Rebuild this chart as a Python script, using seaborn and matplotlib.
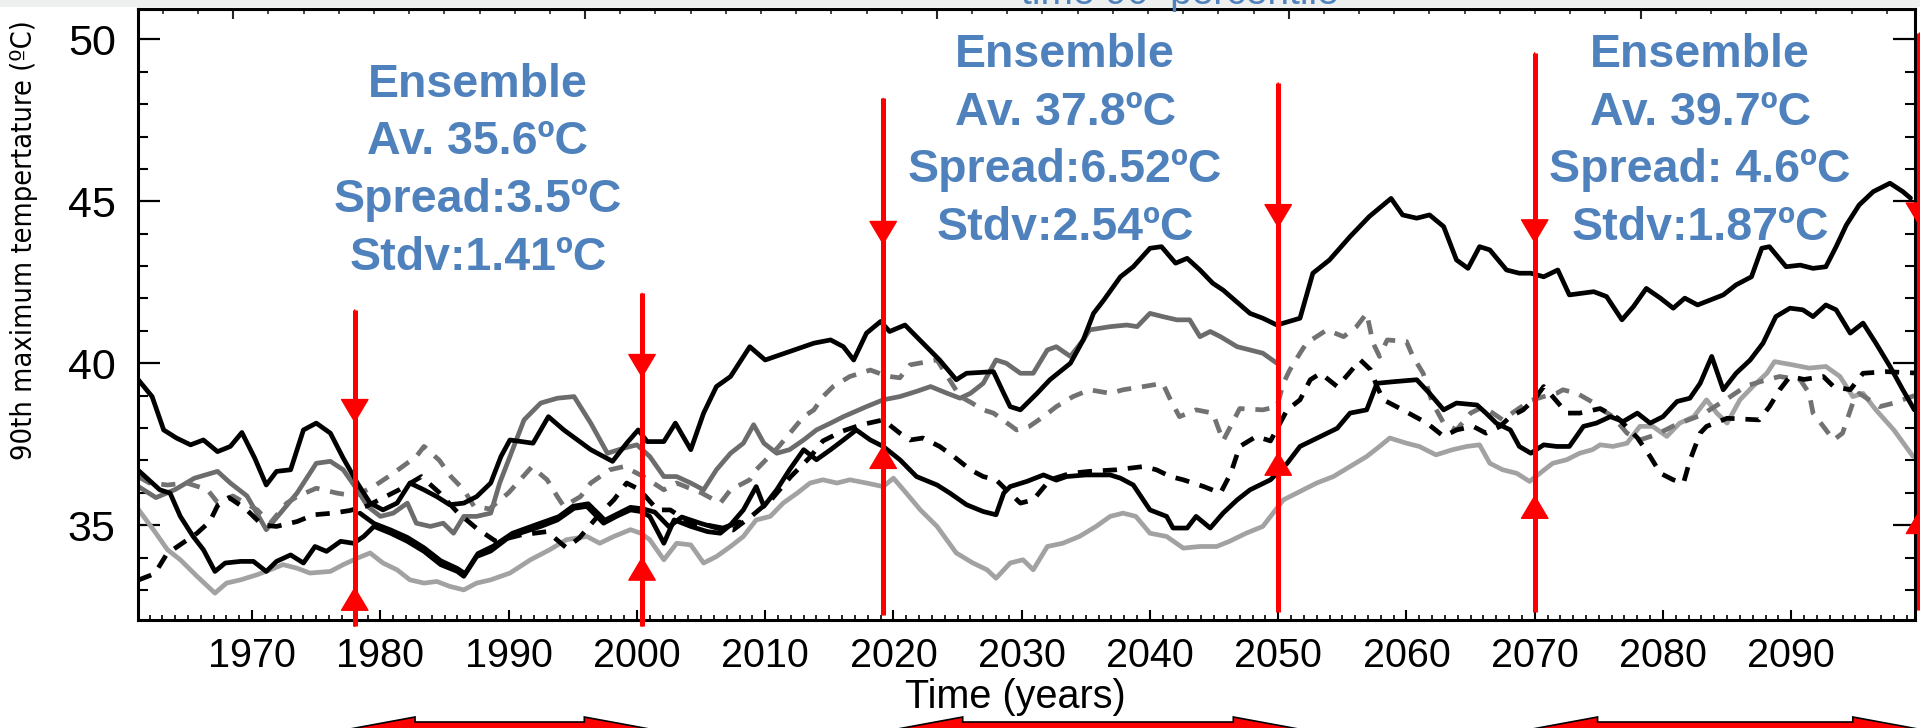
import matplotlib
matplotlib.use("Agg")
import matplotlib.pyplot as plt
import matplotlib.transforms as mtransforms
from matplotlib.patches import Polygon, Rectangle
from matplotlib.ticker import MultipleLocator, FixedLocator
from matplotlib import font_manager
import numpy as np
import pandas as pd
import seaborn as sns

# ---- series: (year, 90th pct max temperature) ----
top_black = [
    (1961.1, 39.50), (1962.2, 38.97), (1963.1, 37.94), (1964.1, 37.69), (1965.2, 37.48),
    (1966.2, 37.63), (1967.3, 37.27), (1968.3, 37.43), (1969.2, 37.86), (1970.2, 37.07),
    (1971.1, 36.24), (1971.9, 36.66), (1973.0, 36.71), (1974.0, 37.94), (1975.0, 38.15),
    (1976.1, 37.84), (1977.1, 37.07), (1978.2, 36.30), (1979.2, 35.68), (1980.2, 35.47),
    (1981.3, 35.68), (1982.3, 36.30), (1983.4, 36.09), (1984.4, 35.88), (1985.4, 35.63),
    (1986.5, 35.68), (1987.5, 35.88), (1988.6, 36.30), (1989.4, 37.12), (1990.1, 37.63),
    (1991.9, 37.53), (1993.1, 38.35), (1994.3, 37.94), (1996.4, 37.33), (1998.1, 36.97),
    (1999.2, 37.53), (2000.1, 37.94), (2000.8, 37.58), (2002.1, 37.58), (2003.0, 38.15),
    (2004.2, 37.33), (2005.2, 38.46), (2006.2, 39.28), (2007.3, 39.59), (2008.8, 40.51),
    (2010.0, 40.10), (2011.9, 40.36), (2013.8, 40.62), (2015.1, 40.72), (2016.1, 40.51),
    (2016.9, 40.10), (2017.9, 40.93), (2019.0, 41.29), (2019.7, 40.98), (2020.9, 41.18),
    (2022.3, 40.62), (2023.6, 40.10), (2024.9, 39.49), (2025.7, 39.69), (2027.8, 39.74),
    (2028.6, 39.07), (2029.1, 38.66), (2029.9, 38.56), (2031.2, 39.07), (2032.2, 39.49),
    (2033.8, 40.00), (2034.8, 40.72), (2035.6, 41.54), (2036.4, 41.95), (2037.7, 42.67),
    (2038.7, 42.98), (2040.0, 43.55), (2040.9, 43.60), (2042.0, 43.09), (2042.9, 43.24),
    (2043.9, 42.88), (2044.9, 42.47), (2045.7, 42.26), (2047.8, 41.54), (2048.8, 41.39),
    (2049.9, 41.18), (2051.7, 41.39), (2052.7, 42.78), (2054.0, 43.19), (2055.6, 43.91),
    (2057.1, 44.53), (2058.8, 45.09), (2059.7, 44.58), (2060.8, 44.48), (2061.8, 44.58),
    (2062.9, 44.22), (2063.9, 43.19), (2064.8, 42.93), (2065.7, 43.60), (2066.5, 43.50),
    (2067.8, 42.88), (2068.8, 42.78), (2069.7, 42.78), (2070.7, 42.67), (2071.8, 42.88),
    (2072.7, 42.11), (2074.6, 42.21), (2075.6, 42.06), (2076.8, 41.34), (2077.7, 41.75),
    (2078.7, 42.31), (2079.8, 42.01), (2080.8, 41.70), (2081.7, 42.01), (2082.7, 41.80),
    (2084.7, 42.11), (2085.7, 42.42), (2086.9, 42.67), (2087.7, 43.55), (2088.3, 43.60),
    (2089.6, 42.98), (2090.7, 43.03), (2091.7, 42.93), (2092.7, 42.98), (2093.5, 43.60),
    (2094.3, 44.27), (2095.3, 44.89), (2096.4, 45.30), (2097.7, 45.56), (2098.7, 45.30),
    (2099.3, 45.10),
]

mid_black = [
    (1961.1, 36.70), (1962.8, 36.09), (1963.6, 35.99), (1964.4, 35.27), (1965.4, 34.65),
    (1966.2, 34.24), (1967.1, 33.57), (1967.9, 33.83), (1969.1, 33.88), (1970.1, 33.88),
    (1971.1, 33.57), (1971.9, 33.88), (1973.0, 34.08), (1974.0, 33.83), (1974.9, 34.34),
    (1975.8, 34.19), (1976.9, 34.50), (1977.9, 34.44), (1978.7, 34.65), (1979.5, 34.96),
    (1980.8, 34.75), (1982.1, 34.50), (1983.4, 34.19), (1984.7, 33.78), (1986.0, 33.57),
    (1986.5, 33.42), (1987.5, 34.03), (1988.6, 34.20), (1990.1, 34.65), (1992.5, 34.96),
    (1993.8, 35.16), (1995.1, 35.52), (1996.1, 35.58), (1997.4, 35.06), (1998.4, 35.27),
    (1999.5, 35.47), (2000.3, 35.42), (2001.0, 35.27), (2002.1, 34.44), (2002.9, 35.16),
    (2004.2, 34.96), (2005.5, 34.80), (2006.5, 34.75), (2007.3, 35.01), (2008.3, 35.47),
    (2009.3, 36.19), (2009.9, 35.58), (2010.9, 36.09), (2011.9, 36.71), (2013.0, 37.33),
    (2014.0, 37.02), (2015.1, 37.33), (2016.1, 37.63), (2017.1, 37.94), (2018.2, 37.63),
    (2019.2, 37.43), (2020.5, 37.02), (2021.8, 36.50), (2023.4, 36.24), (2024.4, 35.99),
    (2025.7, 35.63), (2027.0, 35.42), (2028.0, 35.32), (2028.6, 35.99), (2029.1, 36.19),
    (2030.4, 36.35), (2031.7, 36.55), (2032.7, 36.39), (2033.5, 36.50), (2035.0, 36.55),
    (2036.9, 36.55), (2037.7, 36.45), (2038.7, 36.24), (2040.0, 35.47), (2041.3, 35.27),
    (2041.8, 34.91), (2042.9, 34.91), (2043.6, 35.27), (2044.7, 34.91), (2045.7, 35.37),
    (2046.8, 35.78), (2047.8, 36.09), (2049.4, 36.40), (2050.7, 36.91), (2051.7, 37.43),
    (2053.3, 37.74), (2054.6, 37.99), (2055.6, 38.46), (2056.9, 38.56), (2057.7, 39.38),
    (2059.0, 39.43), (2060.8, 39.49), (2061.8, 39.07), (2062.9, 38.56), (2063.9, 38.77),
    (2065.5, 38.71), (2066.2, 38.46), (2067.0, 38.15), (2068.1, 37.94), (2068.8, 37.43),
    (2069.7, 37.22), (2070.7, 37.48), (2071.7, 37.43), (2072.7, 37.43), (2073.8, 38.05),
    (2074.8, 38.15), (2075.9, 38.35), (2076.9, 38.20), (2078.0, 38.46), (2079.0, 38.15),
    (2080.0, 38.35), (2081.1, 38.82), (2082.1, 38.92), (2082.9, 39.38), (2083.8, 40.21),
    (2084.7, 39.18), (2085.7, 39.69), (2086.8, 40.10), (2087.8, 40.62), (2088.8, 41.44),
    (2089.9, 41.70), (2090.9, 41.65), (2091.7, 41.44), (2092.7, 41.80), (2093.5, 41.65),
    (2094.6, 40.93), (2095.6, 41.24), (2096.6, 40.62), (2097.7, 39.90), (2098.7, 39.18),
    (2099.6, 38.56),
]

hist_black = [
    (1978.4, 35.37), (1979.5, 35.05), (1980.8, 34.85), (1982.1, 34.62), (1983.4, 34.30),
    (1984.7, 33.90), (1986.0, 33.66), (1986.6, 33.50), (1987.6, 34.12), (1988.8, 34.35),
    (1990.3, 34.75), (1992.4, 35.05), (1993.9, 35.26), (1995.0, 35.58), (1996.2, 35.66),
    (1997.5, 35.15), (1998.5, 35.35), (1999.5, 35.55), (2000.5, 35.50), (2001.4, 35.40),
    (2002.5, 34.95), (2003.5, 35.25), (2005.0, 35.05), (2006.5, 34.88), (2008.0, 35.10),
]

dark_gray = [
    (1961.1, 36.20), (1962.5, 35.85), (1964.0, 36.10), (1965.5, 36.45), (1967.3, 36.66),
    (1968.3, 36.30), (1969.6, 35.90), (1971.1, 34.86), (1972.2, 35.37), (1973.5, 35.99),
    (1975.0, 36.91), (1976.1, 36.97), (1977.1, 36.71), (1978.2, 36.09), (1979.0, 35.58),
    (1980.0, 35.27), (1981.0, 35.37), (1982.1, 35.68), (1982.8, 35.06), (1983.9, 34.96),
    (1984.9, 35.06), (1985.7, 34.75), (1986.5, 35.27), (1987.5, 35.27), (1988.6, 35.37),
    (1989.3, 36.30), (1990.1, 37.12), (1991.2, 38.25), (1992.5, 38.77), (1993.8, 38.92),
    (1995.1, 38.97), (1996.4, 38.15), (1997.7, 37.22), (1999.0, 37.38), (2000.0, 37.48),
    (2001.0, 37.12), (2002.1, 36.50), (2003.1, 36.50), (2004.2, 36.30), (2005.2, 36.09),
    (2006.2, 36.71), (2007.3, 37.22), (2008.3, 37.53), (2009.1, 38.10), (2009.9, 37.53),
    (2010.9, 37.22), (2011.9, 37.33), (2013.0, 37.63), (2014.0, 37.94), (2015.1, 38.15),
    (2016.1, 38.35), (2017.9, 38.66), (2019.2, 38.87), (2020.5, 38.97), (2021.8, 39.13),
    (2022.9, 39.28), (2024.2, 39.07), (2025.2, 38.92), (2026.0, 39.07), (2027.0, 39.38),
    (2028.0, 40.10), (2028.8, 40.00), (2029.9, 39.69), (2030.9, 39.69), (2032.0, 40.41),
    (2032.7, 40.51), (2033.8, 40.21), (2034.8, 40.72), (2035.3, 41.03), (2036.9, 41.13),
    (2038.2, 41.18), (2039.0, 41.13), (2040.0, 41.54), (2041.0, 41.44), (2042.1, 41.34),
    (2043.1, 41.34), (2043.9, 40.82), (2044.7, 40.98), (2045.5, 40.82), (2046.8, 40.51),
    (2047.8, 40.41), (2048.8, 40.31), (2049.9, 40.00),
]

light_gray = [
    (1961.1, 35.50), (1962.3, 34.86), (1963.4, 34.24), (1964.4, 33.93), (1965.7, 33.42),
    (1967.1, 32.90), (1968.0, 33.21), (1969.1, 33.31), (1970.4, 33.47), (1971.4, 33.62),
    (1972.4, 33.78), (1973.5, 33.67), (1974.5, 33.52), (1976.1, 33.57), (1977.1, 33.78),
    (1978.2, 33.98), (1979.2, 34.14), (1980.2, 33.83), (1981.3, 33.62), (1982.3, 33.31),
    (1983.4, 33.21), (1984.4, 33.26), (1985.4, 33.11), (1986.5, 33.00), (1987.5, 33.21),
    (1988.6, 33.31), (1990.1, 33.52), (1991.7, 33.93), (1993.2, 34.24), (1994.5, 34.55),
    (1996.1, 34.65), (1997.1, 34.44), (1998.2, 34.65), (1999.5, 34.86), (2000.3, 34.75),
    (2001.0, 34.55), (2002.1, 33.93), (2003.1, 34.44), (2004.2, 34.39), (2005.2, 33.83),
    (2006.2, 34.03), (2007.3, 34.34), (2008.3, 34.65), (2009.3, 35.16), (2010.4, 35.27),
    (2011.4, 35.68), (2012.5, 35.99), (2013.5, 36.30), (2014.5, 36.40), (2015.6, 36.30),
    (2016.6, 36.40), (2017.9, 36.30), (2019.2, 36.19), (2020.0, 36.45), (2021.0, 35.99),
    (2022.1, 35.47), (2023.4, 34.96), (2024.9, 34.14), (2026.2, 33.83), (2027.3, 33.62),
    (2028.0, 33.36), (2029.1, 33.83), (2030.1, 33.93), (2030.9, 33.62), (2032.0, 34.34),
    (2033.2, 34.44), (2034.5, 34.65), (2035.8, 34.96), (2036.9, 35.27), (2037.9, 35.37),
    (2038.9, 35.27), (2040.0, 34.75), (2041.3, 34.65), (2042.6, 34.29), (2043.9, 34.34),
    (2045.2, 34.34), (2046.2, 34.50), (2047.5, 34.75), (2048.8, 34.96), (2049.6, 35.37),
    (2050.4, 35.78), (2051.7, 36.04), (2053.0, 36.30), (2054.3, 36.50), (2055.6, 36.81),
    (2056.9, 37.12), (2057.9, 37.43), (2058.7, 37.69), (2060.0, 37.53), (2061.0, 37.43),
    (2062.3, 37.17), (2063.6, 37.33), (2064.7, 37.43), (2065.7, 37.48), (2066.5, 36.91),
    (2067.5, 36.71), (2068.6, 36.60), (2069.6, 36.35), (2070.4, 36.60), (2071.4, 36.91),
    (2072.5, 37.02), (2073.5, 37.22), (2074.5, 37.33), (2075.1, 37.48), (2076.1, 37.43),
    (2077.2, 37.53), (2078.2, 38.05), (2079.2, 38.05), (2080.3, 37.74), (2081.3, 38.15),
    (2082.4, 38.35), (2083.4, 38.87), (2084.2, 38.46), (2085.0, 38.15), (2086.0, 38.87),
    (2087.0, 39.28), (2088.1, 39.69), (2088.7, 40.05), (2090.1, 39.95), (2091.4, 39.85),
    (2092.7, 39.90), (2093.8, 39.59), (2094.8, 38.97), (2095.6, 39.07), (2096.6, 38.56),
    (2098.0, 37.94), (2099.5, 37.12),
]

black_dashed = [
    (1961.1, 33.30), (1962.4, 33.50), (1963.3, 34.08), (1964.0, 34.29), (1965.7, 34.75),
    (1966.7, 35.11), (1967.3, 35.60), (1968.2, 35.85), (1969.5, 35.50), (1970.8, 35.00),
    (1971.9, 34.96), (1973.5, 35.11), (1974.8, 35.32), (1976.3, 35.37), (1977.6, 35.45),
    (1979.0, 35.60), (1980.5, 35.90), (1981.5, 36.10), (1983.2, 36.50), (1984.6, 36.00),
    (1986.0, 35.40), (1987.5, 34.90), (1989.0, 34.50), (1991.0, 34.70), (1993.0, 34.80),
    (1994.5, 34.30), (1995.5, 34.60), (1997.0, 35.30), (1998.2, 35.78), (1999.2, 36.30),
    (2000.2, 36.10), (2001.6, 35.47), (2002.6, 35.47), (2004.2, 35.06), (2005.5, 35.00),
    (2007.5, 34.85), (2009.0, 35.30), (2010.5, 35.80), (2012.0, 36.50), (2013.5, 37.10),
    (2014.5, 37.60), (2016.0, 37.90), (2017.5, 38.10), (2019.2, 38.25), (2020.5, 37.84),
    (2021.3, 37.63), (2022.3, 37.69), (2023.6, 37.43), (2024.7, 37.12), (2026.0, 36.71),
    (2027.0, 36.50), (2028.0, 36.40), (2028.8, 36.09), (2029.9, 35.68), (2030.9, 35.78),
    (2032.2, 36.40), (2033.8, 36.60), (2035.3, 36.66), (2037.4, 36.71), (2039.5, 36.81),
    (2040.5, 36.71), (2041.6, 36.50), (2042.6, 36.40), (2044.2, 36.19), (2045.5, 35.99),
    (2046.3, 36.60), (2047.0, 37.43), (2048.3, 37.74), (2049.4, 37.60), (2050.7, 38.56),
    (2051.7, 38.87), (2052.5, 39.49), (2053.3, 39.69), (2054.6, 39.28), (2055.3, 39.59),
    (2056.4, 40.10), (2057.2, 39.80), (2057.7, 39.28), (2058.2, 38.87), (2059.7, 38.56),
    (2061.6, 38.15), (2062.9, 37.74), (2063.9, 37.94), (2065.2, 38.05), (2066.2, 37.84),
    (2067.3, 38.05), (2068.1, 38.35), (2069.1, 38.56), (2070.0, 38.90), (2070.7, 39.28),
    (2071.4, 38.97), (2072.5, 38.46), (2073.5, 38.46), (2075.1, 38.60), (2076.5, 38.30),
    (2078.0, 37.70), (2079.0, 37.12), (2079.8, 36.60), (2080.8, 36.40), (2081.6, 36.30),
    (2082.1, 37.00), (2082.9, 37.84), (2083.4, 38.05), (2085.0, 38.30), (2087.5, 38.25),
    (2088.3, 38.66), (2089.1, 39.18), (2089.9, 39.59), (2091.0, 39.50), (2092.5, 39.59),
    (2093.3, 39.28), (2094.6, 39.18), (2095.6, 39.69), (2097.4, 39.74), (2099.6, 39.70),
]

gray_dashed = [
    (1961.1, 36.50), (1962.0, 36.30), (1963.4, 36.24), (1964.9, 36.30), (1966.5, 36.10),
    (1967.3, 35.70), (1968.5, 35.90), (1970.4, 35.47), (1971.4, 35.06), (1972.7, 35.68),
    (1973.5, 35.88), (1975.0, 36.14), (1976.6, 35.99), (1978.0, 35.90), (1979.5, 36.20),
    (1981.0, 36.60), (1982.8, 37.12), (1983.4, 37.43), (1984.6, 37.00), (1985.5, 36.50),
    (1986.5, 36.09), (1987.3, 35.58), (1988.5, 35.50), (1990.0, 36.00), (1991.8, 36.80),
    (1993.0, 36.40), (1993.8, 35.88), (1994.3, 35.58), (1995.6, 35.88), (1996.4, 36.30),
    (1997.9, 36.71), (1999.0, 36.81), (2000.5, 36.50), (2002.1, 36.09), (2003.1, 36.30),
    (2005.0, 36.00), (2006.5, 35.68), (2007.3, 36.09), (2008.8, 36.40), (2009.3, 36.71),
    (2011.0, 37.40), (2013.0, 38.35), (2013.8, 38.56), (2014.5, 38.97), (2015.3, 39.28),
    (2016.6, 39.59), (2018.2, 39.79), (2019.5, 39.60), (2020.5, 39.55), (2021.3, 39.95),
    (2023.4, 40.10), (2025.2, 38.97), (2026.0, 38.80), (2027.0, 38.56), (2027.8, 38.46),
    (2029.6, 37.94), (2030.6, 38.05), (2031.7, 38.35), (2032.7, 38.66), (2034.0, 38.97),
    (2035.3, 39.18), (2036.9, 39.07), (2037.9, 39.18), (2039.5, 39.28), (2041.0, 39.38),
    (2041.6, 38.87), (2042.3, 38.35), (2043.6, 38.56), (2044.9, 38.46), (2045.7, 37.60),
    (2047.0, 38.60), (2048.8, 38.56), (2049.9, 38.66), (2050.4, 39.38), (2050.9, 39.79),
    (2051.7, 40.31), (2052.2, 40.62), (2053.8, 41.03), (2055.1, 40.82), (2056.1, 41.13),
    (2056.9, 41.54), (2057.4, 40.62), (2057.9, 40.21), (2058.5, 40.72), (2060.0, 40.67),
    (2060.5, 40.21), (2061.3, 39.69), (2062.0, 38.80), (2062.9, 38.15), (2063.9, 37.94),
    (2065.0, 38.46), (2066.0, 38.66), (2067.5, 38.25), (2068.6, 38.56), (2069.7, 38.85),
    (2070.7, 38.97), (2071.7, 39.07), (2072.2, 39.18), (2073.3, 39.07), (2074.5, 38.80),
    (2075.1, 38.60), (2076.1, 38.35), (2077.2, 37.84), (2078.2, 37.63), (2079.5, 37.80),
    (2081.0, 38.10), (2083.0, 38.40), (2085.0, 38.90), (2086.5, 39.30), (2088.1, 39.49),
    (2089.1, 39.59), (2090.7, 39.49), (2091.4, 39.07), (2091.7, 38.46), (2092.5, 38.05),
    (2093.3, 37.63), (2094.0, 37.84), (2094.8, 38.77), (2095.3, 39.07), (2096.9, 38.66),
    (2098.0, 38.77), (2099.6, 39.00),
]

# red marker lines: year, top, down-arrow tip, up-arrow tip, bottom
red_years = [1978.0, 2000.4, 2019.2, 2050.0, 2070.0, 2100.0]
red_top = [41.65, 42.16, 48.18, 48.66, 49.59, 50.20]
red_down_tip = [38.15, 39.54, 43.65, 44.17, 43.70, 44.22]
red_up_tip = [33.10, 34.03, 37.48, 37.27, 35.94, 35.47]
red_bottom = [31.87, 31.87, 32.23, 32.33, 32.33, 32.39]

# the three time windows (double arrows under the axis)
period_start = [1977.2, 2019.9, 2069.4]
period_end = [2001.4, 2052.0, 2100.3]

# ensemble statistics boxes
block_years = [1987.6, 2033.4, 2082.9]
block_first_baseline = [48.23, 49.15, 49.15]
block_texts = [
    ["Ensemble", "Av. 35.6ºC", "Spread:3.5ºC", "Stdv:1.41ºC"],
    ["Ensemble", "Av. 37.8ºC", "Spread:6.52ºC", "Stdv:2.54ºC"],
    ["Ensemble", "Av. 39.7ºC", "Spread: 4.6ºC", "Stdv:1.87ºC"],
]

x_ticks = [1970, 1980, 1990, 2000, 2010, 2020, 2030, 2040, 2050, 2060, 2070, 2080, 2090]
y_ticks = [35, 40, 45, 50]


def narrow_font():
    # look for a condensed sans face for the rotated axis label
    entries = font_manager.fontManager.ttflist
    for e in entries:
        if e.name == 'Liberation Sans Narrow' and e.style == 'normal' and e.weight in (400, 'normal', 'regular'):
            return font_manager.FontProperties(fname=e.fname)
    for e in entries:
        if e.name in ('Noto Sans', 'Open Sans', 'Roboto', 'DejaVu Sans') and \
                e.stretch in ('condensed', 'semi-condensed', 'extra-condensed') and \
                e.style == 'normal' and e.weight in (400, 'normal', 'regular'):
            return font_manager.FontProperties(fname=e.fname)
    return font_manager.FontProperties(family='Liberation Sans')


def main():
    sns.set_theme(style="ticks")
    plt.rcParams['font.family'] = ['Liberation Sans', 'DejaVu Sans']

    W, H = 1920, 728
    fig = plt.figure(figsize=(W / 100, H / 100), dpi=100)
    fig.patch.set_facecolor('white')
    ax = fig.add_axes([138 / W, 1 - 620 / H, (1915 - 138) / W, (620 - 9) / H])
    ax.set_facecolor('white')

    dash = (0, (3.0, 2.3))
    styles = [
        (light_gray, '#a2a2a2', '-', 2),
        (dark_gray, '#6c6c6c', '-', 2),
        (gray_dashed, '#727272', dash, 2),
        (black_dashed, '#000000', dash, 3),
        (hist_black, '#000000', '-', 3),
        (mid_black, '#000000', '-', 3),
        (top_black, '#000000', '-', 3),
    ]
    for pts, color, ls, z in styles:
        df = pd.DataFrame(pts, columns=['year', 'temp'])
        sns.lineplot(data=df, x='year', y='temp', ax=ax, color=color, linewidth=3.4,
                     linestyle=ls, sort=False, estimator=None, zorder=z)

    ax.set_xlim(1961.1, 2099.65)
    ax.set_ylim(32.07, 50.94)
    ax.set_xlabel('')
    ax.set_ylabel('')

    # ticks
    ax.xaxis.set_major_locator(FixedLocator(x_ticks))
    ax.xaxis.set_minor_locator(MultipleLocator(1))
    ax.yaxis.set_major_locator(FixedLocator(y_ticks))
    ax.yaxis.set_minor_locator(MultipleLocator(1))
    ax.tick_params(axis='both', which='both', direction='in', top=False, right=True,
                   colors='black')
    ax.tick_params(axis='y', which='major', length=16, width=1.6, pad=16, labelsize=31)
    ax.tick_params(axis='y', which='minor', length=7, width=1.5)
    ax.tick_params(axis='x', which='major', length=7, width=1.5, pad=12, labelsize=28.5)
    ax.tick_params(axis='x', which='minor', length=3.5, width=1.2)
    for sp in ax.spines.values():
        sp.set_visible(True)
        sp.set_linewidth(2.2)
        sp.set_color('black')

    # the top axis carries its own (unlabelled) tick scale
    top_step = 27.43
    top_major = np.arange(1968.53, 2100, top_step)
    top_minor = np.arange(1968.53 - top_step, 2100, top_step / 10)
    sec = ax.secondary_xaxis('top')
    sec.xaxis.set_major_locator(FixedLocator(top_major))
    sec.xaxis.set_minor_locator(FixedLocator(top_minor))
    sec.tick_params(which='major', direction='in', length=7, width=1.5, labeltop=False)
    sec.tick_params(which='minor', direction='in', length=3.5, width=1.2)
    sec.spines['top'].set_linewidth(2.2)

    # red period markers
    red = '#ff0000'
    ax.vlines(red_years, red_bottom, red_top, colors=red, linewidth=3.6, zorder=6,
              clip_on=False)
    head = dict(arrowstyle='-|>,head_length=1.6,head_width=0.95', color=red, lw=1,
                shrinkA=0, shrinkB=0, mutation_scale=10)
    for x, top, dtip, utip, bot in zip(red_years, red_top, red_down_tip, red_up_tip,
                                       red_bottom):
        ax.annotate('', xy=(x, dtip), xytext=(x, top), arrowprops=head,
                    annotation_clip=False, zorder=7)
        ax.annotate('', xy=(x, utip), xytext=(x, bot), arrowprops=head,
                    annotation_clip=False, zorder=7)

    # blue statistics text
    step = 1.78
    for x, base, lines in zip(block_years, block_first_baseline, block_texts):
        for i, line in enumerate(lines):
            ax.text(x, base - i * step, line, ha='center', va='baseline',
                    fontsize=33.5, fontweight='bold', color='#4f81bd',
                    family=['Liberation Sans', 'DejaVu Sans'], zorder=8)

    # axis labels
    fig.text(1015 / W, 1 - 708 / H, 'Time (years)', ha='center', va='baseline',
             fontsize=28.5, color='black')
    yprops = narrow_font()
    ylab = fig.text(24 / W, 1 - 240 / H, '90th maximum tempertature (ºC)', rotation=90,
                    ha='center', va='center', fontproperties=yprops, color='black')
    ylab.set_fontsize(26)
    # fit the rotated label to the length it has in the picture (about 440 px)
    renderer = fig.canvas.get_renderer()
    span = ylab.get_window_extent(renderer).height
    ylab.set_fontsize(min(30, 26 * 440 / span))

    # double block arrows for the three windows, cut by the figure bottom
    trans = mtransforms.blended_transform_factory(ax.transData, fig.dpi_scale_trans)
    c, hh, sh, hl = -0.02, 0.13, 0.08, 5.5
    for x0, x1 in zip(period_start, period_end):
        verts = [(x0, c), (x0 + hl, c + hh), (x0 + hl, c + sh), (x1 - hl, c + sh),
                 (x1 - hl, c + hh), (x1, c), (x1 - hl, c - hh), (x1 - hl, c - sh),
                 (x0 + hl, c - sh), (x0 + hl, c - hh)]
        fig.add_artist(Polygon(verts, closed=True, facecolor=red, edgecolor='black',
                               linewidth=1.2, transform=trans, clip_on=False))

    # grey strip with the clipped slide title above the plot
    fig.add_artist(Rectangle((0, 1 - 7 / H), 1, 7 / H, transform=fig.transFigure,
                             facecolor='#eef0ef', edgecolor='none', zorder=0))
    fig.text(1021 / W, 1 - 4 / H, 'time 90  percentile', ha='left', va='baseline',
             fontsize=28, color='#4f81bd')

    fig.savefig('out.png', dpi=100, facecolor='white')
    plt.close(fig)


if __name__ == "__main__":
    main()
